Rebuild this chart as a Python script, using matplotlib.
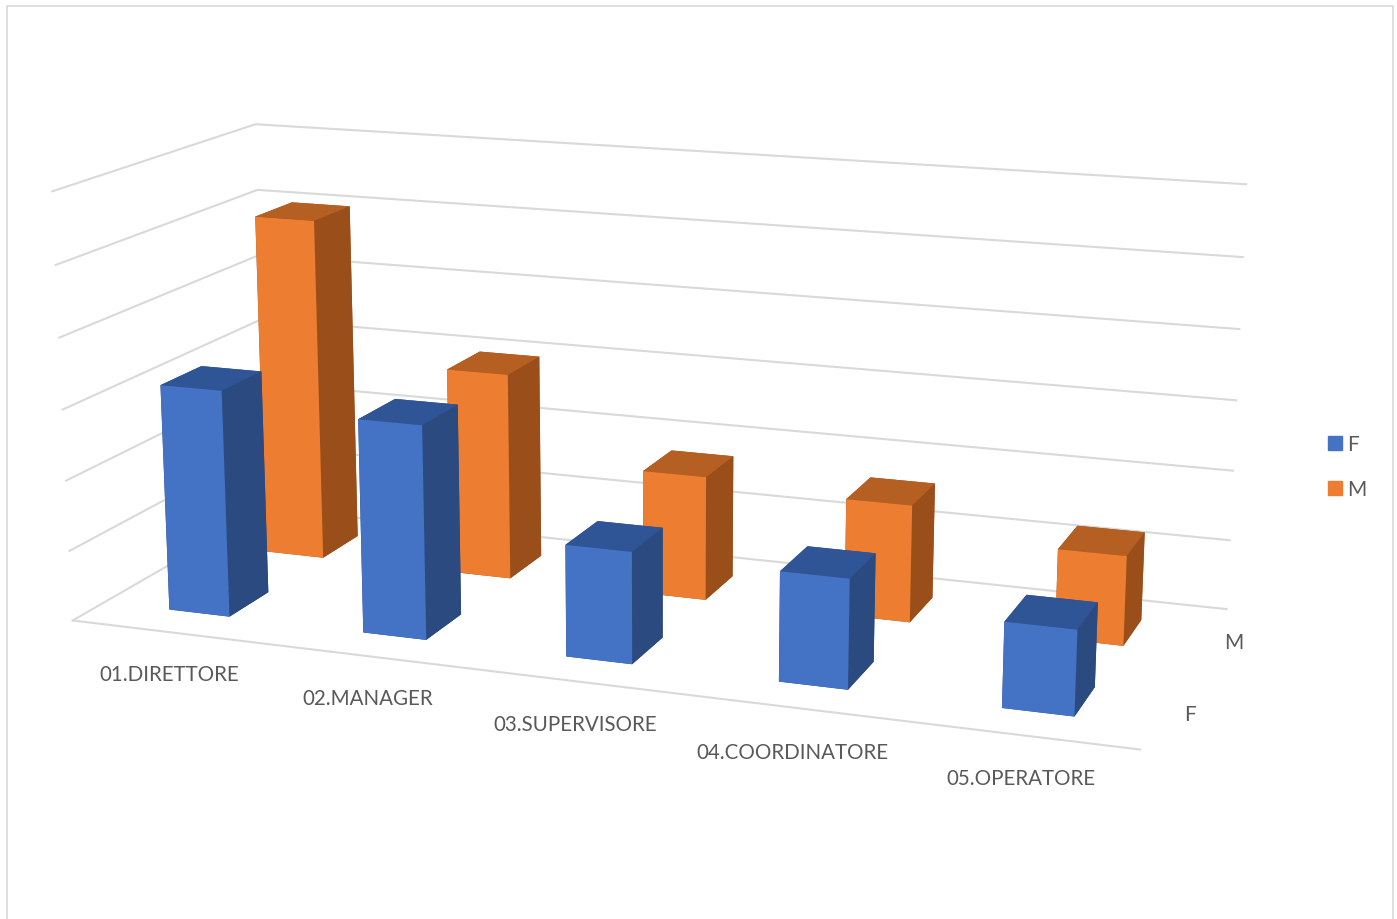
import matplotlib
matplotlib.use("Agg")
import matplotlib.pyplot as plt
from matplotlib.patches import Patch, Rectangle
from matplotlib.text import Text

categories = ["01.DIRETTORE", "02.MANAGER", "03.SUPERVISORE", "04.COORDINATORE", "05.OPERATORE"]
series_names = ["F", "M"]
values_f = [3.22, 3.0, 1.55, 1.5, 1.15]
values_m = [5.03, 3.01, 1.79, 1.67, 1.26]
z_ticks = [0, 1, 2, 3, 4, 5, 6]

# colori: fronte, lato, sopra
blue = ("#4472C4", "#2B4A80", "#2F5597")
orange = ("#ED7D31", "#9A4F1B", "#B65F22")
grid_col = "#D9D9D9"
text_col = "#595959"

plt.rcParams["font.family"] = ["Lato", "DejaVu Sans"]

fig = plt.figure(figsize=(13.97, 9.2), dpi=100)
ax = fig.add_axes([(238.5 - 58.34) / 1397, 41.67 / 920, 920 / 1397, 1], projection="3d")
ax.computed_zorder = False
ax.view_init(elev=14.226, azim=-69.964, roll=0.0285)
ax.set_proj_type("persp", focal_length=0.6394)
ax.set_box_aspect((1, 0.3993, 0.4039), zoom=1.3231)
ax.set_xlim(0, 5)
ax.set_ylim(0, 2)
ax.set_zlim(0, 6)
ax.set_axis_off()

# griglia sulle due pareti
for z in z_ticks:
    ax.plot([0, 0, 5], [0, 2, 2], [z, z, z], color=grid_col, lw=1.5, zorder=1, clip_on=False)
# bordo anteriore del pavimento
ax.plot([0, 5], [0, 0], [0, 0], color=grid_col, lw=1.5, zorder=1, clip_on=False)

bar_w = 0.315
bar_d = 0.4


def add_bars(values, row, cols, base_z):
    for i, v in enumerate(values):
        # facce: -z, +z, -y, +y, -x, +x
        face_cols = [cols[1], cols[2], cols[0], cols[1], cols[1], cols[1]]
        bars = ax.bar3d(i + 0.5 - bar_w / 2, row + 0.5 - bar_d / 2, 0, bar_w, bar_d, v,
                        color=face_cols, shade=False, linewidth=0, zorder=base_z + i)
        bars.set_clip_on(False)


add_bars(values_m, 1, orange, 10)
add_bars(values_f, 0, blue, 20)

label_x = [0.595, 1.585, 2.57, 3.56, 4.545]
label_z = [-0.39, -0.38, -0.38, -0.39, -0.35]
for x, z, name in zip(label_x, label_z, categories):
    ax.text(x, -0.18, z, name, ha="center", va="center", fontsize=14.8, color=text_col, clip_on=False)
label_rows = [0.5, 1.56]
row_z = [0, -0.04]
for j, name in enumerate(series_names):
    ax.text(5.11, label_rows[j], row_z[j], name, ha="center", va="center", fontsize=15, color=text_col)

handles = [Patch(color=blue[0], label="F"), Patch(color=orange[0], label="M")]
fig.legend(handles=handles, loc="center left", bbox_to_anchor=(1328 / 1397, 1 - 467.5 / 920),
           frameon=False, fontsize=15, labelcolor=text_col, handlelength=0.67, handleheight=0.67,
           handletextpad=0.25, labelspacing=1.2, borderpad=0, borderaxespad=0)

fig.add_artist(Rectangle((7 / 1397, -0.01), 1386 / 1397, 1.01 - 7 / 920, fill=False,
                         ec=grid_col, lw=1.2, transform=fig.transFigure))

# testi vuoti (titoli, assi) nascosti
for t in fig.findobj(Text):
    if not t.get_text():
        t.set_visible(False)

fig.savefig("out.png", dpi=100)
